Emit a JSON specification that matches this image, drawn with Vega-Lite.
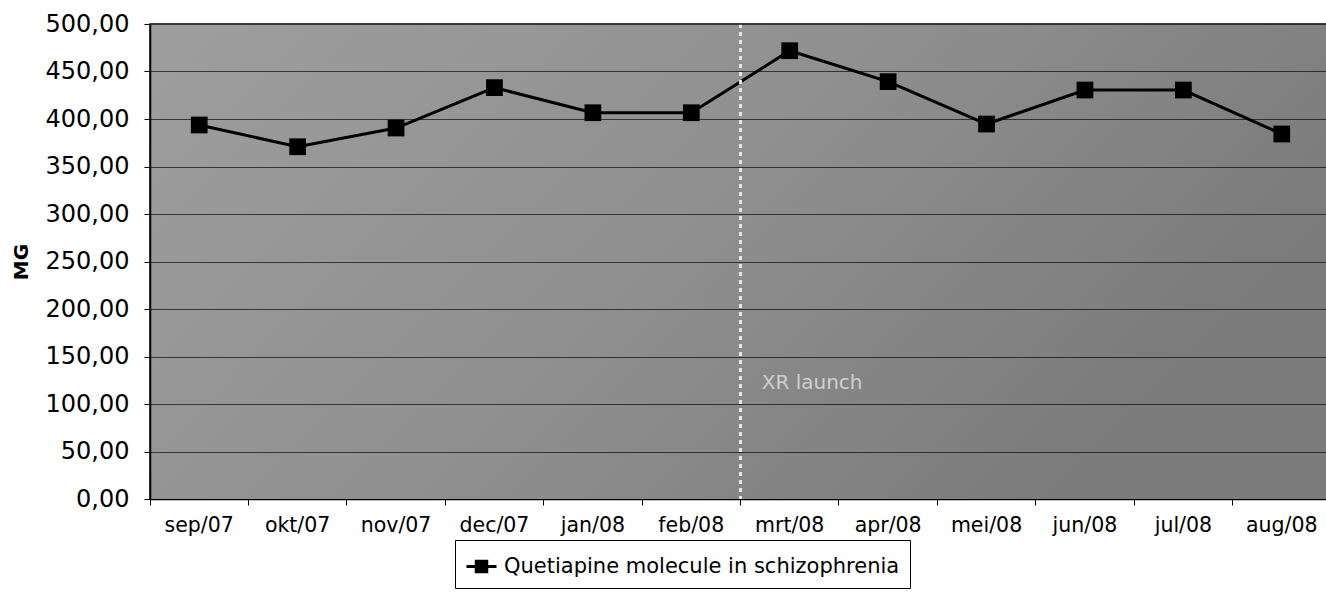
{
  "$schema": "https://vega.github.io/schema/vega-lite/v6.json",
  "width": 1181,
  "height": 475,
  "autosize": "none",
  "padding": {"left": 150, "top": 24, "right": -5, "bottom": 104},
  "background": "white",
  "datasets": {
    "main": [
      {"month": "sep/07", "mg": 393.7, "series": "Quetiapine molecule in schizophrenia"},
      {"month": "okt/07", "mg": 370.8, "series": "Quetiapine molecule in schizophrenia"},
      {"month": "nov/07", "mg": 390.5, "series": "Quetiapine molecule in schizophrenia"},
      {"month": "dec/07", "mg": 433.0, "series": "Quetiapine molecule in schizophrenia"},
      {"month": "jan/08", "mg": 406.6, "series": "Quetiapine molecule in schizophrenia"},
      {"month": "feb/08", "mg": 406.6, "series": "Quetiapine molecule in schizophrenia"},
      {"month": "mrt/08", "mg": 471.9, "series": "Quetiapine molecule in schizophrenia"},
      {"month": "apr/08", "mg": 439.3, "series": "Quetiapine molecule in schizophrenia"},
      {"month": "mei/08", "mg": 394.7, "series": "Quetiapine molecule in schizophrenia"},
      {"month": "jun/08", "mg": 430.5, "series": "Quetiapine molecule in schizophrenia"},
      {"month": "jul/08", "mg": 430.5, "series": "Quetiapine molecule in schizophrenia"},
      {"month": "aug/08", "mg": 384.2, "series": "Quetiapine molecule in schizophrenia"}
    ],
    "launch": [
      {"month": "mrt/08", "mg": 122, "label": "XR launch"}
    ]
  },
  "layer": [
    {
      "data": {"values": [{"bg": 1}]},
      "mark": {
        "type": "rect",
        "fill": {
          "gradient": "linear", "x1": 0, "y1": 0, "x2": 1, "y2": 0.4,
          "stops": [
            {"offset": 0, "color": "#9e9e9e"},
            {"offset": 0.55, "color": "#8f8f8f"},
            {"offset": 1, "color": "#7b7b7b"}
          ]
        }
      },
      "encoding": {}
    },
    {
      "data": {"name": "main"},
      "mark": {
        "type": "line",
        "strokeWidth": 3,
        "point": {"shape": "square", "size": 280, "filled": true, "opacity": 1}
      },
      "encoding": {
        "x": {
          "field": "month", "type": "ordinal", "sort": null,
          "scale": {
            "type": "band", "paddingInner": 0, "paddingOuter": 0,
            "domain": ["sep/07", "okt/07", "nov/07", "dec/07", "jan/08", "feb/08", "mrt/08", "apr/08", "mei/08", "jun/08", "jul/08", "aug/08"]
          },
          "axis": {
            "title": null, "labelAngle": 0, "bandPosition": 0,
            "labelFont": "DejaVu Sans", "labelFontSize": 20.5, "labelColor": "black",
            "labelPadding": 10, "tickColor": "black", "tickSize": 6,
            "domainColor": "black", "domainWidth": 1.5, "grid": false
          }
        },
        "y": {
          "field": "mg", "type": "quantitative",
          "scale": {"domain": [0, 500], "nice": false},
          "axis": {
            "title": "MG", "titleFont": "DejaVu Sans", "titleFontSize": 20,
            "titleFontWeight": "bold", "titleColor": "black", "titlePadding": 14,
            "values": [0, 50, 100, 150, 200, 250, 300, 350, 400, 450, 500],
            "labelExpr": "replace(format(datum.value, '.2f'), '.', ',')",
            "labelFont": "DejaVu Sans", "labelFontSize": 24, "labelColor": "black",
            "labelPadding": 15, "tickColor": "black", "tickSize": 6,
            "domainColor": "black", "domainWidth": 1.5, "zindex": 1,
            "grid": true, "gridColor": "black", "gridWidth": 1, "gridOpacity": 0.65
          }
        },
        "color": {
          "field": "series", "type": "nominal",
          "scale": {"range": ["black"]},
          "legend": {
            "title": null, "orient": "none", "legendX": 305, "legendY": 516,
            "direction": "horizontal", "labelLimit": 0,
            "labelFont": "DejaVu Sans", "labelFontSize": 21, "labelColor": "black",
            "symbolType": "M-1,0H1M-0.35,-0.35H0.35V0.35H-0.35Z",
            "symbolSize": 900, "symbolStrokeWidth": 3,
            "symbolFillColor": "black", "symbolStrokeColor": "black",
            "strokeColor": "black", "padding": 10, "labelOffset": 6
          }
        }
      }
    },
    {
      "data": {"name": "launch"},
      "mark": {"type": "rule", "color": "#e6e6e6", "strokeWidth": 3, "strokeDash": [4, 4]},
      "encoding": {
        "x": {"field": "month", "type": "ordinal", "bandPosition": 0}
      }
    },
    {
      "data": {"name": "launch"},
      "mark": {
        "type": "text", "align": "left", "baseline": "middle", "dx": -28,
        "font": "DejaVu Sans", "fontSize": 20, "color": "#cfcfcf"
      },
      "encoding": {
        "x": {"field": "month", "type": "ordinal"},
        "y": {"field": "mg", "type": "quantitative"},
        "text": {"field": "label"}
      }
    }
  ],
  "config": {
    "view": {"stroke": "black", "strokeWidth": 1.5}
  }
}
